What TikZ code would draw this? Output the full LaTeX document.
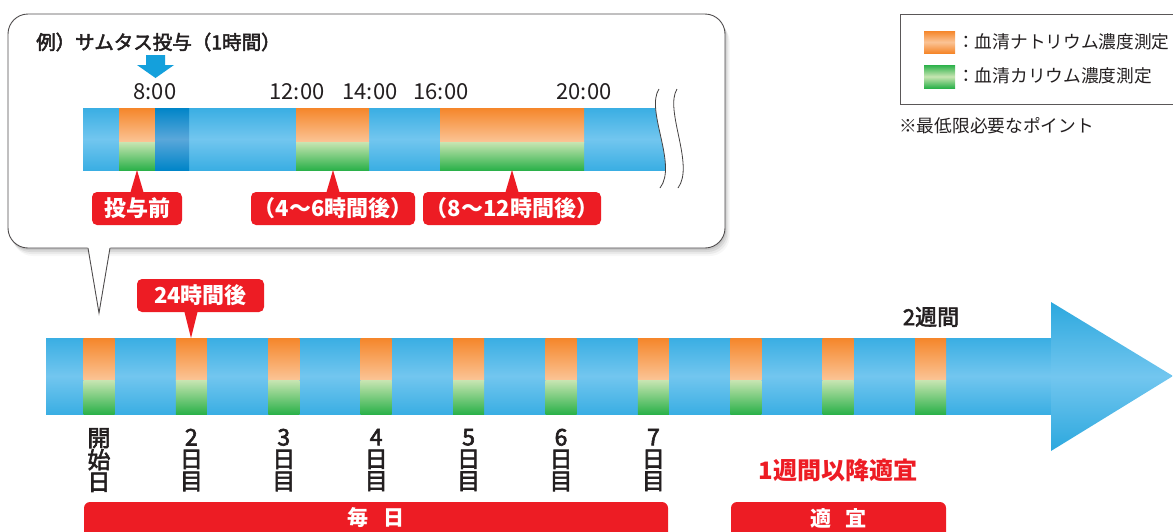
\documentclass[tikz,border=0pt]{standalone}
\usepackage{fontspec}
\setmainfont{Noto Sans CJK JP}
\newfontfamily\medfont{Noto Sans CJK JP}[FakeBold=2.6]
\definecolor{ink}{HTML}{231F20}
\definecolor{redc}{HTML}{ED1C24}
\definecolor{barB}{HTML}{3AAEE3}
\definecolor{barL}{HTML}{72C6EF}
\definecolor{headB}{HTML}{2CA8DE}
\definecolor{dkB}{HTML}{0085C8}
\definecolor{dkL}{HTML}{5AA7DA}
\definecolor{orD}{HTML}{F5862A}
\definecolor{orL}{HTML}{FBC496}
\definecolor{grL}{HTML}{C8E5B2}
\definecolor{grD}{HTML}{2BB14A}
\definecolor{arrB}{HTML}{14A0DC}
\tikzset{
  bluebar/.style={top color=barB, bottom color=barB, middle color=barL},
  darkbar/.style={top color=dkB, bottom color=dkB, middle color=dkL},
  orseg/.style={top color=orD, bottom color=orL},
  grseg/.style={top color=grL, bottom color=grD},
  txt/.style={text=ink, inner sep=0pt, font=\fontsize{17.7}{17.7}\selectfont},
  timetxt/.style={text=ink, inner sep=0pt, font=\fontsize{22}{22}\selectfont},
  daytxt/.style={text=ink, inner sep=0pt, align=center, font=\medfont\fontsize{23}{22}\selectfont},
  redbox/.style={fill=redc, text=white, rounded corners=5pt, minimum height=33pt, inner sep=0pt, font=\bfseries\fontsize{22}{22}\selectfont},
  redbar/.style={fill=redc, text=white, inner sep=0pt, font=\bfseries\fontsize{21}{21}\selectfont},
  wave/.style={draw=ink!85, line width=0.8pt},
}
\begin{document}
\begin{tikzpicture}[x=1pt,y=-1pt]
\useasboundingbox (0,0) rectangle (1173,531);

% ---------- callout bubble ----------
\foreach \o/\a in {8/0.03,6/0.05,4/0.07,2/0.08}{
  \fill[black, opacity=\a, rounded corners=20pt] (8+\o*0.6,14+\o) rectangle (725+\o*0.6,248+\o);
}
\draw[fill=white, draw=ink!80, line width=0.9pt, rounded corners=20pt] (8,14) rectangle (725,248);
\fill[white] (87.6,246.8) -- (99,313) -- (110.4,246.8) -- cycle;
\coordinate (tailL) at (88,248);
\coordinate (tailT) at (99,313);
\coordinate (tailR) at (110,248);
\draw[draw=ink!80, line width=0.9pt, line join=miter] (tailL) -- (tailT) -- (tailR);

\node[anchor=west, text=ink, inner sep=0pt, font=\medfont\fontsize{19.5}{19.5}\selectfont] (title) at (36,42) {例）サムタス投与（1時間）};

% blue down arrow
\fill[arrB] (146,55) -- (165,55) -- (165,65) -- (174,65) -- (155.5,78) -- (137,65) -- (146,65) -- cycle;

% time labels
\node[timetxt] (t8) at (155,92) {8:00};
\node[timetxt] (t12) at (297,92) {12:00};
\node[timetxt] (t14) at (370,92) {14:00};
\node[timetxt] (t16) at (441,92) {16:00};
\node[timetxt] (t20) at (584,92) {20:00};

% inner bar
\shade[bluebar] (83,108) rectangle (668,170);
\shade[orseg] (119,108) rectangle (155,142);
\shade[grseg] (119,142) rectangle (155,170);
\shade[darkbar] (155,108) rectangle (189,170);
\shade[orseg] (296,108) rectangle (369,142);
\shade[grseg] (296,142) rectangle (369,170);
\shade[orseg] (440,108) rectangle (584,142);
\shade[grseg] (440,142) rectangle (584,170);
% wavy break
\fill[white] (659,89) .. controls (645,110) and (678,165) .. (660,188) -- (700,188) -- (700,89) -- cycle;
\draw[wave] (659,89) .. controls (645,110) and (678,165) .. (660,188);
\draw[wave] (677,89) .. controls (664,110) and (695,165) .. (678,188);

% red labels in callout
\coordinate (p1) at (137,170);
\coordinate (p2) at (333,170);
\coordinate (p3) at (512,170);
\node[redbox, minimum width=90pt] (b1) at (137,208.5) {投与前};
\node[redbox, minimum width=164pt] (b2) at (333,208.5) {（4〜6時間後）};
\node[redbox, minimum width=178pt] (b3) at (512,208.5) {（8〜12時間後）};
\foreach \b/\p in {b1/p1,b2/p2,b3/p3}{
  \fill[redc] ([xshift=-7pt,yshift=-2pt]\b.north) -- (\p) -- ([xshift=7pt,yshift=-2pt]\b.north) -- cycle;
}

% ---------- legend ----------
\draw[draw=ink!75, line width=0.9pt] (1174,14) -- (900,14) -- (900,104) -- (1174,104);
\shade[top color=orD, bottom color=orD, middle color=orL] (924,31) rectangle (955,53);
\shade[top color=grD, bottom color=grD, middle color=grL] (924,65) rectangle (955,88);
\node[txt, anchor=west] (lg1) at (957,42) {：血清ナトリウム濃度測定};
\node[txt, anchor=west] (lg2) at (957,76) {：血清カリウム濃度測定};
\node[txt, anchor=west] (note) at (899,126) {※最低限必要なポイント};

% ---------- main arrow ----------
\shade[bluebar] (46,338) rectangle (1052,414);
\shade[top color=headB, bottom color=headB, middle color=barL] (1051,302) -- (1173,376) -- (1051,451) -- cycle;
\foreach \i in {0,...,9}{
  \pgfmathsetmacro{\cx}{99+92.4*\i}
  \shade[orseg] (\cx-15.5,338) rectangle (\cx+15.5,380);
  \shade[grseg] (\cx-15.5,380) rectangle (\cx+15.5,414);
}

% 24h label
\coordinate (p4) at (191,338);
\node[redbox, minimum width=127pt] (b4) at (200.5,295.5) {24時間後};
\fill[redc] ([xshift=-16.5pt,yshift=2pt]b4.south) -- (p4) -- ([xshift=-2.5pt,yshift=2pt]b4.south) -- cycle;

\node[text=ink, inner sep=0pt, font=\medfont\fontsize{22}{22}\selectfont] (w2) at (931,317) {2週間};

% day labels
\node[daytxt] (d1) at (99,460) {開\\始\\日};
\node[daytxt] (d2) at (191.4,460) {2\\日\\目};
\node[daytxt] (d3) at (283.8,460) {3\\日\\目};
\node[daytxt] (d4) at (376.2,460) {4\\日\\目};
\node[daytxt] (d5) at (468.6,460) {5\\日\\目};
\node[daytxt] (d6) at (561,460) {6\\日\\目};
\node[daytxt] (d7) at (653.4,460) {7\\日\\目};

\node[text=redc, inner sep=0pt, font=\bfseries\fontsize{24}{24}\selectfont] (after) at (838,470) {1週間以降適宜};

% bottom bars
\fill[redc, rounded corners=6pt] (84,540) -- (84,502) -- (668,502) -- (668,540) -- cycle;
\fill[redc, rounded corners=6pt] (731,540) -- (731,502) -- (946,502) -- (946,540) -- cycle;
\node[redbar] (daily) at (376,518) {毎\hspace{0.7em}日};
\node[redbar] (asneed) at (838.5,518) {適\hspace{0.7em}宜};
\end{tikzpicture}
\end{document}
